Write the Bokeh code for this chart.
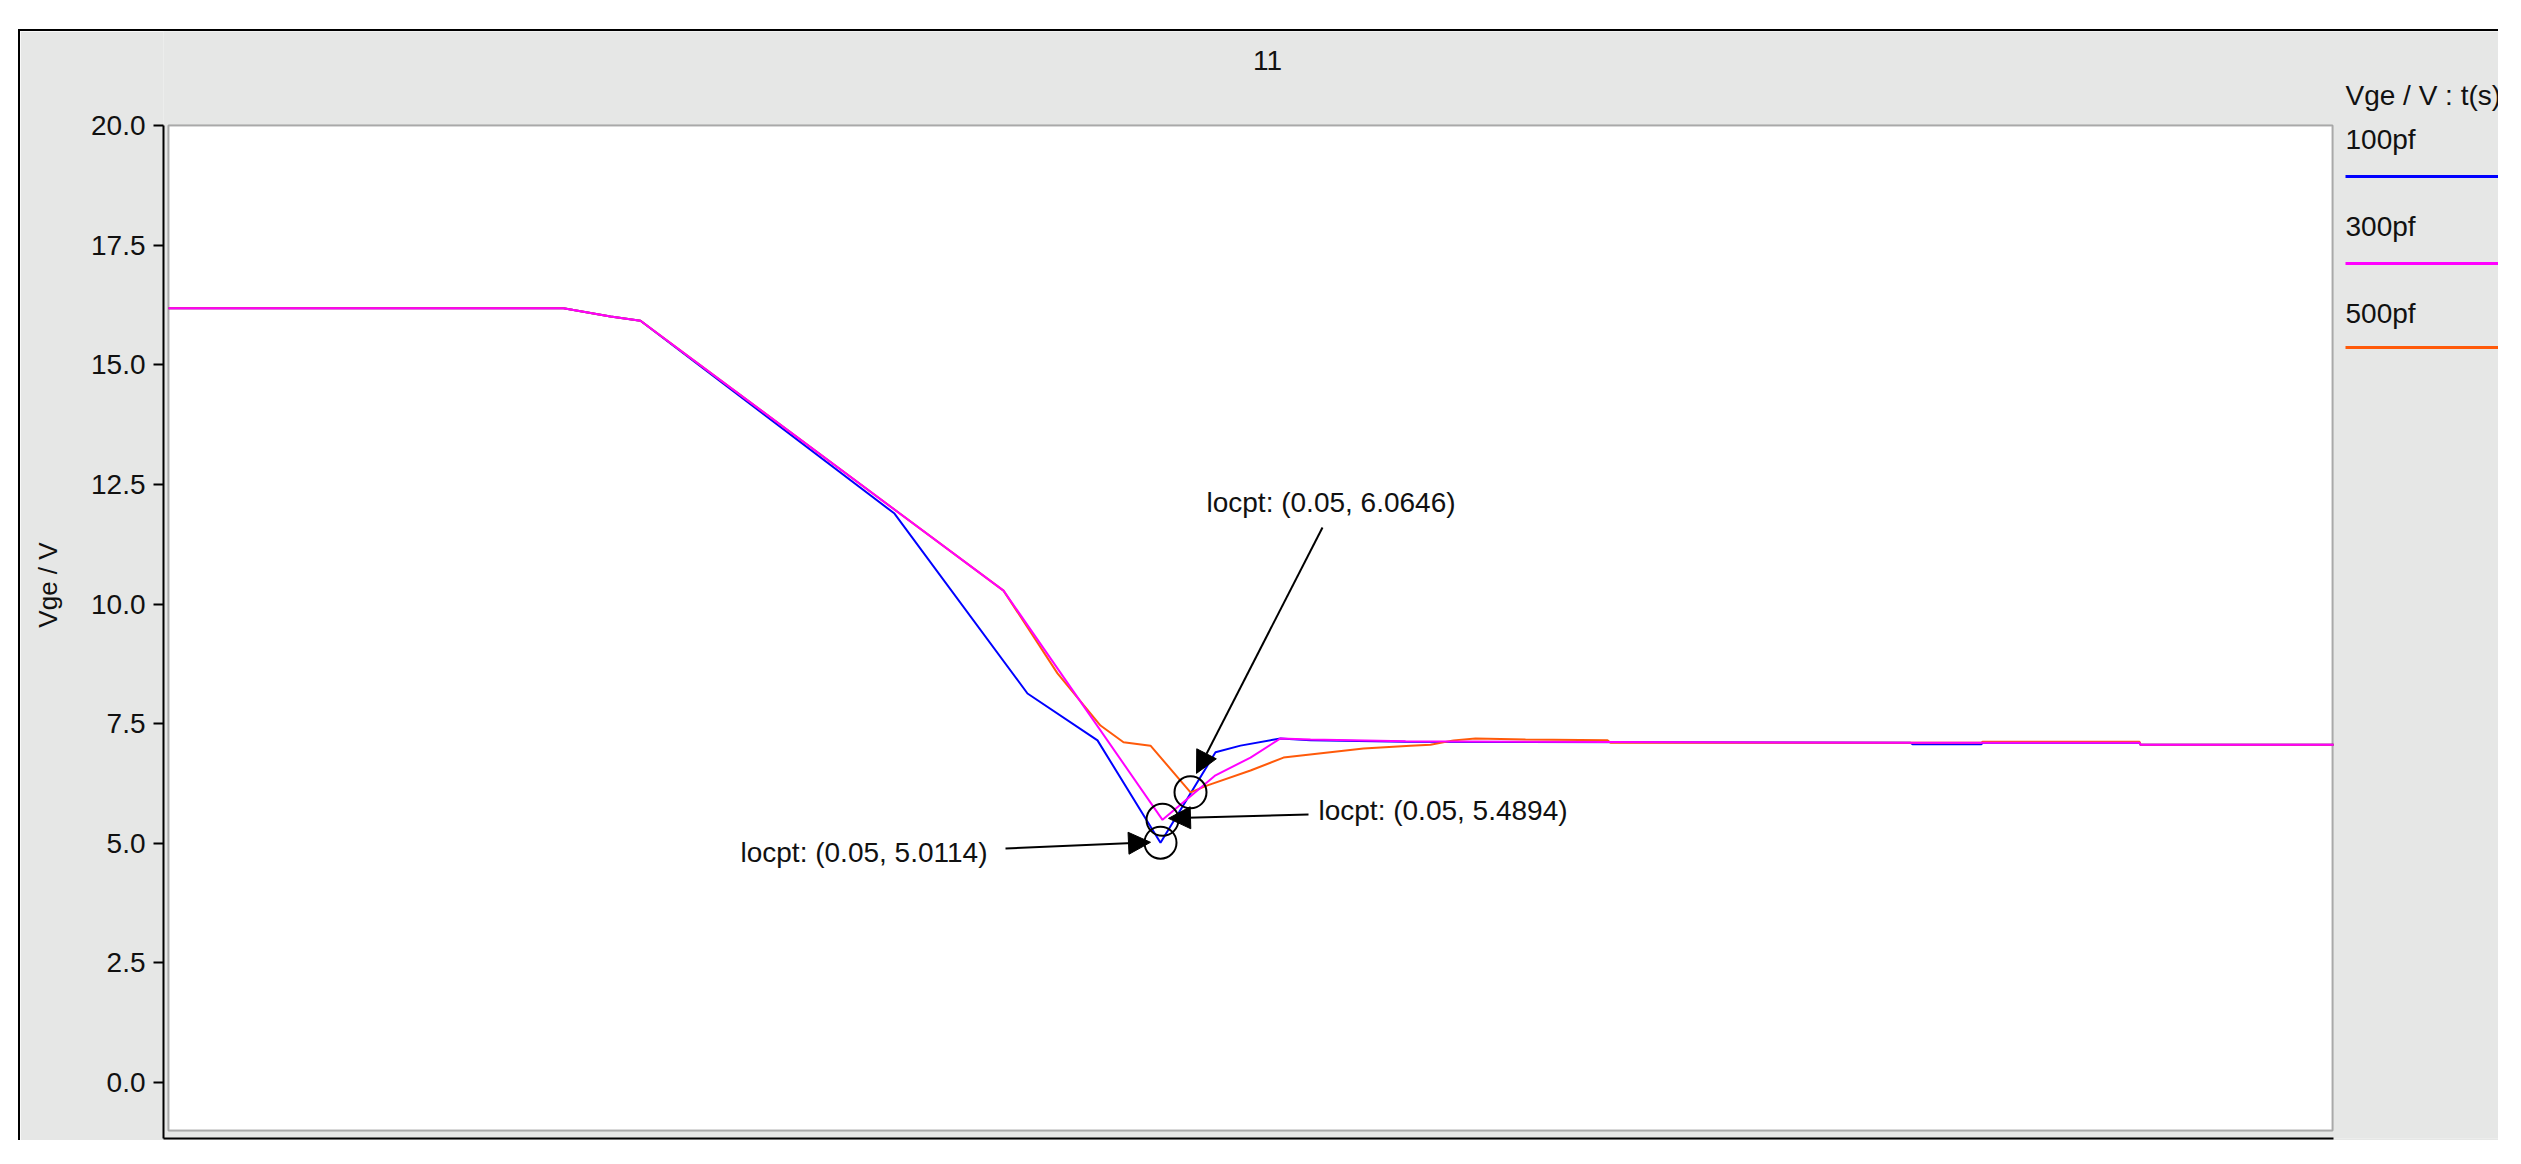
from bokeh.plotting import figure
from bokeh.models import (Range1d, FixedTicker, NumeralTickFormatter, Label, Arrow,
                          NormalHead, BoxAnnotation, Spacer)
from bokeh.layouts import row, column
from bokeh.embed import file_html
from bokeh.resources import INLINE

FONT = "Liberation Sans"

# ---------------- data (t in s, Vge in V) ----------------
t_100pf = [0.0, 0.01975, 0.0221, 0.0236, 0.0363, 0.04295, 0.04645, 0.0496, 0.05235,
           0.0536, 0.0556, 0.0571, 0.06185, 0.0871, 0.0872, 0.09065, 0.0907, 0.09855,
           0.0986, 0.10825]
v_100pf = [16.18, 16.18, 16.01, 15.92, 11.89, 8.13, 7.15, 5.0114, 6.90,
           7.04, 7.19, 7.15, 7.12, 7.10, 7.07, 7.07, 7.10, 7.10,
           7.06, 7.06]

t_300pf = [0.0, 0.01975, 0.0221, 0.0236, 0.04175, 0.0497, 0.05235, 0.0541, 0.0556,
           0.0571, 0.06185, 0.0871, 0.09855, 0.0986, 0.10825]
v_300pf = [16.18, 16.18, 16.01, 15.92, 10.28, 5.4894, 6.42, 6.79, 7.19,
           7.17, 7.13, 7.10, 7.10, 7.06, 7.06]

t_500pf = [0.0, 0.01975, 0.0221, 0.0236, 0.04175, 0.04445, 0.0466, 0.04775, 0.0491,
           0.0511, 0.05195, 0.0541, 0.05575, 0.05975, 0.0621, 0.0631, 0.06425, 0.06535,
           0.06785, 0.07195, 0.0721, 0.09065, 0.0907, 0.09855, 0.0986, 0.10825]
v_500pf = [16.18, 16.18, 16.01, 15.92, 10.28, 8.55, 7.46, 7.11, 7.04,
           6.0646, 6.21, 6.52, 6.79, 6.98, 7.04, 7.06, 7.15, 7.19,
           7.17, 7.15, 7.10, 7.10, 7.12, 7.12, 7.06, 7.06]

series_names = ["100pf", "300pf", "500pf"]
series_colors = ["#0000ff", "#ff00ff", "#ff5a0a"]
legend_title = "Vge / V : t(s)"
chart_title = "11"
y_label = "Vge / V"

# locpt markers (minimum points)
loc_t = [0.0496, 0.0497, 0.0511]
loc_v = [5.0114, 5.4894, 6.0646]
loc_text = ["locpt: (0.05, 5.0114)", "locpt: (0.05, 5.4894)", "locpt: (0.05, 6.0646)"]
loc_label_t = [0.0286, 0.0575, 0.0519]
loc_label_v = [4.81, 5.68, 12.12]
arrow_t0 = [0.04185, 0.0570, 0.0577]
arrow_v0 = [4.89, 5.60, 11.60]
arrow_t1 = [0.0491, 0.0500, 0.05140]
arrow_v1 = [5.02, 5.52, 6.46]

y_ticks = [0.0, 2.5, 5.0, 7.5, 10.0, 12.5, 15.0, 17.5, 20.0]

# plot window in data units
T_MIN, T_MAX = 0.0, 0.10825
V_MIN, V_MAX = -1.003, 20.0

GRAY = "#e6e7e6"

# ---------------- main figure ----------------
p = figure(width=2478, height=1109, output_backend="svg", toolbar_location=None,
           x_range=Range1d(-0.00025, 0.1165), y_range=Range1d(-1.1703, 21.9645),
           min_border_left=143, min_border_right=0, min_border_top=0,
           min_border_bottom=2)
p.background_fill_color = GRAY
p.border_fill_color = GRAY
p.outline_line_color = None
p.grid.visible = False

# white plotting area with black frame
p.add_layout(BoxAnnotation(left=T_MIN, right=T_MAX - 0.00005, top=V_MAX, bottom=V_MIN,
                           fill_color="white", fill_alpha=1.0, line_color="black",
                           line_width=2, level="underlay"))

# y axis
ya = p.yaxis[0]
ya.bounds = (-1.1703, V_MAX)
ya.ticker = FixedTicker(ticks=y_ticks)
ya.formatter = NumeralTickFormatter(format="0.0")
ya.major_label_text_font = FONT
ya.major_label_text_font_size = "28px"
ya.major_label_text_color = "#111111"
ya.major_label_standoff = 8
ya.major_tick_out = 10
ya.major_tick_in = 0
ya.minor_tick_out = 0
ya.minor_tick_in = 0
ya.major_tick_line_width = 2
ya.major_tick_line_color = "black"
ya.axis_line_width = 2
ya.axis_line_color = "black"
ya.axis_label = y_label
ya.axis_label_text_font = FONT
ya.axis_label_text_font_size = "26px"
ya.axis_label_text_font_style = "normal"
ya.axis_label_text_color = "#111111"
ya.axis_label_standoff = 25

# x axis: line only, no ticks
xa = p.xaxis[0]
xa.bounds = (-0.00025, T_MAX)
xa.ticker = FixedTicker(ticks=[])
xa.major_label_standoff = 0
xa.major_tick_out = 0
xa.major_tick_in = 0
xa.minor_tick_out = 0
xa.minor_tick_in = 0
xa.axis_line_width = 2
xa.axis_line_color = "black"

# curves
for tt, vv, c in [(t_100pf, v_100pf, series_colors[0]),
                  (t_500pf, v_500pf, series_colors[2]),
                  (t_300pf, v_300pf, series_colors[1])]:
    p.line(tt, vv, line_color=c, line_width=2)

# locpt circles
p.scatter(loc_t, loc_v, marker="circle", size=32, fill_color=None,
          line_color="black", line_width=2)

# locpt labels + arrows
for i in range(3):
    p.add_layout(Label(x=loc_label_t[i], y=loc_label_v[i], text=loc_text[i],
                       text_font=FONT, text_font_size="28px", text_color="#111111",
                       text_baseline="middle", text_align="left"))
    p.add_layout(Arrow(end=NormalHead(size=22, fill_color="black", line_color="black"),
                       x_start=arrow_t0[i], y_start=arrow_v0[i],
                       x_end=arrow_t1[i], y_end=arrow_v1[i],
                       line_color="black", line_width=2))

# title
p.add_layout(Label(x=0.05495, y=21.358, text=chart_title, text_font=FONT,
                   text_font_size="28px", text_color="#111111",
                   text_align="center", text_baseline="middle"))

# legend (right of the plot window)
leg_t0, leg_t1 = 0.10885, 0.1165
p.add_layout(Label(x=leg_t0, y=20.627, text=legend_title, text_font=FONT,
                   text_font_size="28px", text_color="#111111", text_baseline="middle"))
leg_text_v = [19.707, 17.889, 16.071]
leg_line_v = [18.934, 17.116, 15.36]
for name, tv in zip(series_names, leg_text_v):
    p.add_layout(Label(x=leg_t0, y=tv, text=name, text_font=FONT,
                       text_font_size="28px", text_color="#111111",
                       text_baseline="middle"))
p.segment(x0=[leg_t0] * 3, y0=leg_line_v, x1=[leg_t1] * 3, y1=leg_line_v,
          line_color=series_colors, line_width=3)

# ---------------- page layout with outer box border (top/left) ----------------
top_bar = Spacer(width=2480, height=2, styles={"background-color": "black"})
left_bar = Spacer(width=2, height=1109, styles={"background-color": "black"})
inner = column(top_bar, row(left_bar, p))
root = column(Spacer(width=18, height=29), row(Spacer(width=18, height=1111), inner))

open("out.html", "w").write(file_html(root, INLINE))
